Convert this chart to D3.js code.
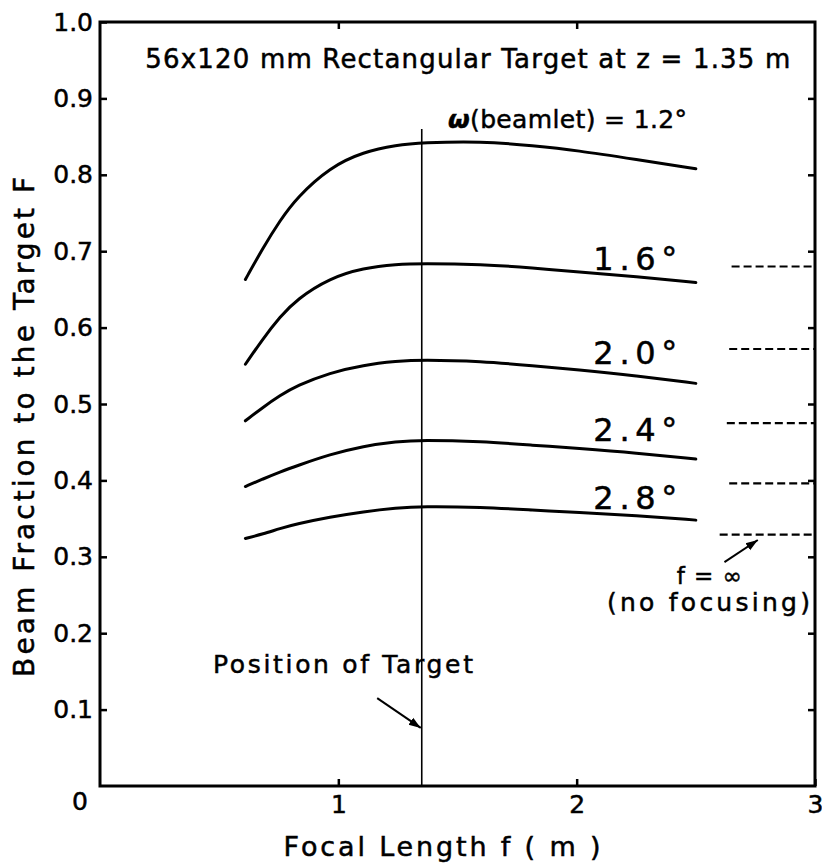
<html>
  <head>
    <script src="https://cdnjs.cloudflare.com/ajax/libs/d3/7.8.5/d3.min.js"></script>
  </head>
  <body style="margin:0;background:#fff;">
    <style>
      text {font-family:"DejaVu Sans",sans-serif; fill:#000; stroke:#000; stroke-width:0.5px;}
      .tick text {font-size:25px;}
    </style>
    <div id="chart"></div>
    <script>

// D A T A

      // focal length f (m) at which each curve was read
      let focal = [0.61, 0.685, 0.755, 0.825, 0.965, 1.105, 1.245, 1.35, 1.60, 1.82, 2.00, 2.25, 2.50]

      let beamlets = ['1.2', '1.6', '2.0', '2.4', '2.8']

      let f12 = [0.663, 0.705, 0.740, 0.770, 0.810, 0.830, 0.839, 0.842, 0.844, 0.838, 0.832, 0.820, 0.808]
      let f16 = [0.552, 0.586, 0.614, 0.637, 0.665, 0.678, 0.683, 0.684, 0.683, 0.678, 0.673, 0.667, 0.659]
      let f20 = [0.478, 0.496, 0.511, 0.524, 0.541, 0.551, 0.556, 0.558, 0.556, 0.550, 0.545, 0.537, 0.527]
      let f24 = [0.392, 0.402, 0.411, 0.419, 0.434, 0.445, 0.451, 0.453, 0.451, 0.446, 0.442, 0.436, 0.428]
      let f28 = [0.324, 0.330, 0.337, 0.343, 0.352, 0.359, 0.364, 0.366, 0.365, 0.361, 0.358, 0.354, 0.348]

      // f = infinity (no focusing) levels, dashed at right
      let infLevels = [0.680, 0.572, 0.475, 0.396, 0.329]
      let infStart  = [2.65, 2.64, 2.63, 2.64, 2.60]

      let targetZ = 1.35
      let xTicks = [1, 2, 3]
      let yTicks = [0.1, 0.2, 0.3, 0.4, 0.5, 0.6, 0.7, 0.8, 0.9, 1.0]

      let series = [f12, f16, f20, f24, f28]

// S C A L E S

      var margin = {top: 22, right: 7, bottom: 81, left: 100},
          width = 822 - margin.left - margin.right,
          height = 867 - margin.top - margin.bottom;

      var svg = d3.select("#chart")
        .append("svg")
          .attr("width", 822)
          .attr("height", 867)
        .append("g")
          .attr("transform", "translate(" + margin.left + "," + margin.top + ")");

      var x = d3.scaleLinear().domain([0, 3]).range([0, width])
      var y = d3.scaleLinear().domain([0, 1]).range([height, 0])

// A X I S

      svg.append("g")
        .call(d3.axisLeft(y).tickValues(yTicks).tickSizeInner(-7).tickSizeOuter(0).tickPadding(7)
          .tickFormat(d3.format(".1f")))
      svg.append("g")
        .attr("transform", `translate(${width},0)`)
        .call(d3.axisRight(y).tickValues(yTicks.slice(0, -1)).tickSizeInner(-7).tickSizeOuter(0).tickFormat(""))
      svg.append("g")
        .attr("transform", `translate(0,${height})`)
        .call(d3.axisBottom(x).tickValues(xTicks).tickSizeInner(-7).tickSizeOuter(0).tickPadding(9)
          .tickFormat(d3.format("d")))
      svg.append("g")
        .call(d3.axisTop(x).tickValues(xTicks.slice(0, -1)).tickSizeInner(-7).tickSizeOuter(0).tickFormat(""))

      svg.selectAll(".domain").remove()
      svg.selectAll(".tick line").attr("stroke", "#000").attr("stroke-width", 2.5)

      // zero in the corner
      svg.append("text")
        .attr("x", -12).attr("y", height + 24)
        .attr("text-anchor", "end")
        .style("font-size", "25px")
        .text("0")

      svg.append("rect")
        .attr("width", width).attr("height", height)
        .attr("fill", "none").attr("stroke", "#000").attr("stroke-width", 3)

      svg.append("text")
        .attr("transform", `translate(-66,${y(0.47)}) rotate(-90)`)
        .attr("text-anchor", "middle")
        .attr("textLength", 500)
        .style("font-size", "28px")
        .text("Beam  Fraction to the Target  F")

      svg.append("text")
        .attr("x", x(0.77)).attr("y", height + 70)
        .attr("textLength", 317)
        .style("font-size", "27px")
        .text("Focal Length  f  ( m )")

// R E N D E R

      let line = d3.line()
        .x((d, i) => x(focal[i]))
        .y(d => y(d))
        .curve(d3.curveBasis)

      svg.append("g").selectAll("path")
        .data(series)
        .enter().append("path")
          .attr("d", line)
          .attr("fill", "none")
          .attr("stroke", "#000")
          .attr("stroke-width", 3)
          .attr("stroke-linecap", "round")

      svg.append("g").selectAll("line")
        .data(infLevels)
        .enter().append("line")
          .attr("x1", (d, i) => x(infStart[i]))
          .attr("x2", x(3))
          .attr("y1", d => y(d))
          .attr("y2", d => y(d))
          .attr("stroke", "#000")
          .attr("stroke-width", 2.2)
          .attr("stroke-dasharray", "8,4")

      // position of target
      svg.append("line")
        .attr("x1", x(targetZ)).attr("x2", x(targetZ))
        .attr("y1", y(0.86)).attr("y2", height)
        .attr("stroke", "#000").attr("stroke-width", 1.6)

// L A B E L S

      svg.append("text")
        .attr("x", x(0.19)).attr("y", 46)
        .attr("textLength", 645)
        .style("font-size", "26px")
        .text("56x120 mm   Rectangular Target at  z = 1.35 m")

      svg.append("text")
        .attr("x", x(1.46)).attr("y", y(0.861))
        .attr("textLength", 239)
        .style("font-size", "25px")
        .html("<tspan font-style='italic' font-weight='bold'>ω</tspan>(beamlet) = 1.2°")

      let labelAt = [0.676, 0.553, 0.452, 0.363]
      svg.append("g").selectAll("text")
        .data(beamlets.slice(1))
        .enter().append("text")
          .attr("x", x(2.07)).attr("y", (d, i) => y(labelAt[i]))
          .attr("textLength", 84)
          .style("font-size", "32px")
          .text(d => d + "°")

      svg.append("text")
        .attr("x", x(0.474)).attr("y", y(0.148))
        .attr("textLength", 260)
        .style("font-size", "25px")
        .text("Position of Target")

      svg.append("defs").append("marker")
          .attr("id", "head")
          .attr("viewBox", "0 0 10 10")
          .attr("refX", 10).attr("refY", 5)
          .attr("markerWidth", 6).attr("markerHeight", 6)
          .attr("orient", "auto")
        .append("path")
          .attr("d", "M0,1.5 L10,5 L0,8.5 z")
          .attr("fill", "#000")

      svg.append("line")
        .attr("x1", x(1.163)).attr("y1", y(0.115))
        .attr("x2", x(targetZ) - 1).attr("y2", y(0.076))
        .attr("stroke", "#000").attr("stroke-width", 2)
        .attr("marker-end", "url(#head)")

      svg.append("line")
        .attr("x1", x(2.62)).attr("y1", y(0.293))
        .attr("x2", x(2.76)).attr("y2", y(0.322))
        .attr("stroke", "#000").attr("stroke-width", 2)
        .attr("marker-end", "url(#head)")

      svg.append("text")
        .attr("x", x(2.42)).attr("y", y(0.265))
        .attr("textLength", 65)
        .style("font-size", "23px")
        .text("f = ∞")

      svg.append("text")
        .attr("x", x(2.127)).attr("y", y(0.229))
        .attr("textLength", 203)
        .style("font-size", "25px")
        .text("(no focusing)")

    </script>
  </body>
</html>
